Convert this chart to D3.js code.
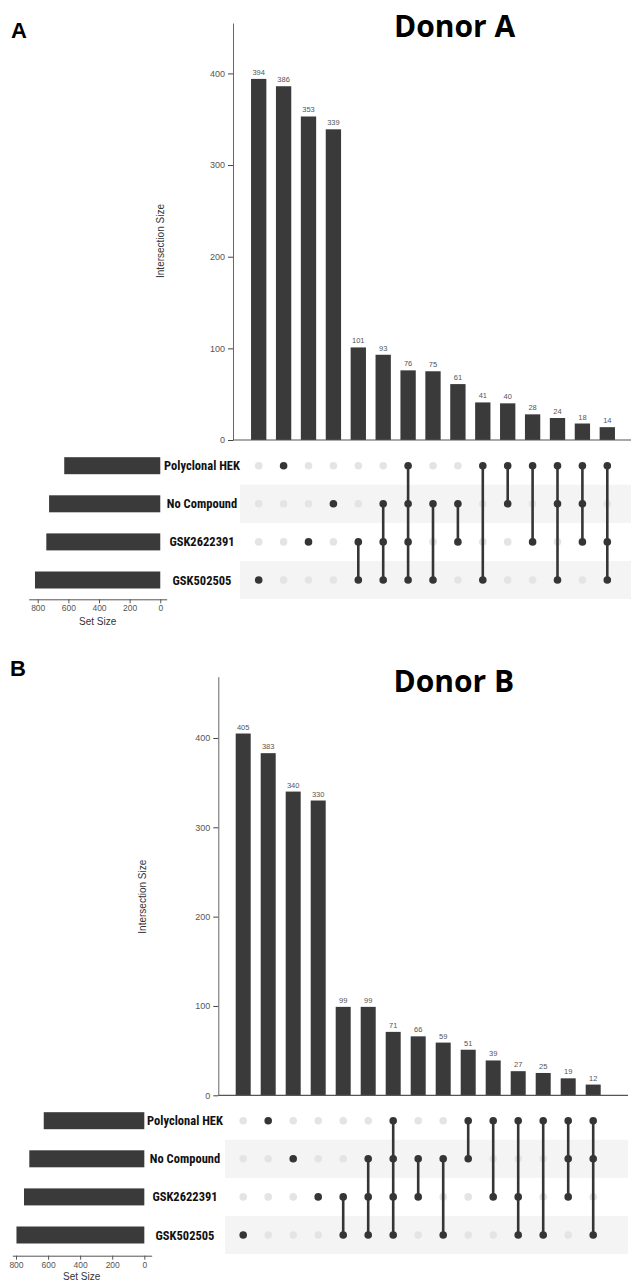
<!DOCTYPE html>
<html>
<head>
<meta charset="utf-8">
<script src="https://cdn.jsdelivr.net/npm/d3@7"></script>
<style>
  html, body { margin: 0; padding: 0; background: #fff; }
  svg { display: block; }
  .tick text { font-family: "Liberation Sans", Arial, sans-serif; fill: #555; }
</style>
</head>
<body>
<svg id="chart" width="631" height="1283"></svg>
<script>
// Sets shown in the matrix rows (top to bottom)
const setNames = ["Polyclonal HEK", "No Compound", "GSK2622391", "GSK502505"];

// Axis tick values
const intersectionTicks = [0, 100, 200, 300, 400];
const setSizeTicks = [0, 200, 400, 600, 800];

// Donor A: exclusive intersection sizes and their member sets
const donorAValues = [394, 386, 353, 339, 101, 93, 76, 75, 61, 41, 40, 28, 24, 18, 14];
const donorASets = [
  ["GSK502505"],
  ["Polyclonal HEK"],
  ["GSK2622391"],
  ["No Compound"],
  ["GSK2622391", "GSK502505"],
  ["No Compound", "GSK2622391", "GSK502505"],
  ["Polyclonal HEK", "No Compound", "GSK2622391", "GSK502505"],
  ["No Compound", "GSK502505"],
  ["No Compound", "GSK2622391"],
  ["Polyclonal HEK", "GSK502505"],
  ["Polyclonal HEK", "No Compound"],
  ["Polyclonal HEK", "GSK2622391"],
  ["Polyclonal HEK", "No Compound", "GSK502505"],
  ["Polyclonal HEK", "No Compound", "GSK2622391"],
  ["Polyclonal HEK", "GSK2622391", "GSK502505"]
];

// Donor B: exclusive intersection sizes and their member sets
const donorBValues = [405, 383, 340, 330, 99, 99, 71, 66, 59, 51, 39, 27, 25, 19, 12];
const donorBSets = [
  ["GSK502505"],
  ["Polyclonal HEK"],
  ["No Compound"],
  ["GSK2622391"],
  ["GSK2622391", "GSK502505"],
  ["No Compound", "GSK2622391", "GSK502505"],
  ["Polyclonal HEK", "No Compound", "GSK2622391", "GSK502505"],
  ["No Compound", "GSK2622391"],
  ["No Compound", "GSK502505"],
  ["Polyclonal HEK", "No Compound"],
  ["Polyclonal HEK", "GSK2622391"],
  ["Polyclonal HEK", "GSK2622391", "GSK502505"],
  ["Polyclonal HEK", "GSK502505"],
  ["Polyclonal HEK", "No Compound", "GSK2622391"],
  ["Polyclonal HEK", "No Compound", "GSK502505"]
];

const svg = d3.select("#chart");
const SANS = '"Liberation Sans", Arial, sans-serif';
const NARROW = '"Liberation Sans Narrow", "Arial Narrow", "Roboto Condensed", "DejaVu Sans Condensed", sans-serif';
const BAR = "#3a3a3a";
const DOT_ON = "#353535";
const DOT_OFF = "#e4e4e4";
const BAND = "#f4f4f4";

function drawUpset(panel, values, memberSets, L) {
  const g = svg.append("g");
  const ids = values.map((_, i) => i);

  // set sizes = sum of the exclusive intersections containing each set
  const setSizes = setNames.map(s =>
    d3.sum(values.filter((v, i) => memberSets[i].includes(s))));

  // scales
  const x = d3.scaleBand().domain(ids)
    .range([L.bandX0, L.bandX0 + L.step * ids.length])
    .paddingInner(L.pad).paddingOuter(L.pad / 2);
  const y = d3.scaleLinear().domain([0, L.yMax]).range([L.base, L.top]);
  const row = d3.scalePoint().domain(setNames)
    .range([L.row0, L.row0 + L.rowStep * (setNames.length - 1)]);
  const sx = d3.scaleLinear().domain(L.setDomain).range([L.setX0, L.setX1]);

  // panel letter and title
  g.append("text").attr("x", L.letterX).attr("y", L.letterY)
    .attr("font-family", SANS).attr("font-weight", "bold")
    .attr("font-size", 22).attr("fill", "#000").text(panel.letter);
  g.append("text").attr("x", L.titleX).attr("y", L.titleY)
    .attr("text-anchor", "middle")
    .attr("font-family", '"Open Sans", sans-serif').attr("font-weight", "bold")
    .attr("font-size", L.titleSize).attr("fill", "#000").text(panel.title);

  // row bands behind the matrix
  g.selectAll("rect.band").data(setNames.filter((_, i) => i % 2 === 1))
    .join("rect").attr("class", "band")
    .attr("x", L.bandStart).attr("width", L.bandEnd - L.bandStart)
    .attr("y", d => row(d) - L.rowStep / 2).attr("height", L.rowStep)
    .attr("fill", BAND);

  // intersection size axis
  const yAxis = g.append("g").attr("transform", `translate(${L.axisX},0)`)
    .call(d3.axisLeft(y).tickValues(intersectionTicks).tickSize(5).tickPadding(3).tickSizeOuter(0));
  yAxis.select(".domain").attr("stroke", "#666");
  yAxis.selectAll(".tick line").attr("stroke", "#444");
  yAxis.selectAll(".tick text").attr("font-size", 9);

  g.append("text")
    .attr("transform", `translate(${L.yLabelX},${L.yLabelY}) rotate(-90)`)
    .attr("text-anchor", "middle").attr("dominant-baseline", "middle")
    .attr("font-family", SANS).attr("font-size", 10).attr("fill", "#333")
    .text("Intersection Size");

  // intersection bars
  g.selectAll("rect.bar").data(ids).join("rect").attr("class", "bar")
    .attr("x", i => x(i)).attr("width", x.bandwidth())
    .attr("y", i => y(values[i])).attr("height", i => y(0) - y(values[i]))
    .attr("fill", BAR);

  g.selectAll("text.val").data(ids).join("text").attr("class", "val")
    .attr("x", i => x(i) + x.bandwidth() / 2).attr("y", i => y(values[i]) - 4)
    .attr("text-anchor", "middle")
    .attr("font-family", SANS).attr("font-size", 7.5).attr("fill", "#555")
    .text(i => values[i]);

  // baseline under the bars
  g.append("line").attr("x1", L.axisX).attr("x2", L.baseEnd)
    .attr("y1", y(0)).attr("y2", y(0)).attr("stroke", "#555").attr("stroke-width", 1.2);

  // matrix: connecting lines and dots
  const cols = g.selectAll("g.col").data(ids).join("g").attr("class", "col")
    .attr("transform", i => `translate(${x(i) + x.bandwidth() / 2},0)`);

  cols.selectAll("circle").data(i => setNames.map(s => ({ s, on: memberSets[i].includes(s) })))
    .join("circle")
    .attr("cy", d => row(d.s)).attr("r", 3.8)
    .attr("fill", d => d.on ? DOT_ON : DOT_OFF);

  cols.filter(i => memberSets[i].length > 1).append("line")
    .attr("y1", i => d3.min(memberSets[i], s => row(s)))
    .attr("y2", i => d3.max(memberSets[i], s => row(s)))
    .attr("stroke", DOT_ON).attr("stroke-width", 2.6);

  // set labels
  g.selectAll("text.setlab").data(setNames).join("text").attr("class", "setlab")
    .attr("x", L.labelX).attr("y", d => row(d))
    .attr("text-anchor", "middle").attr("dominant-baseline", "central")
    .attr("font-family", NARROW).attr("font-weight", "bold")
    .attr("font-size", 12.5).attr("fill", "#111")
    .text(d => d);

  // set size bars
  g.selectAll("rect.setbar").data(setNames).join("rect").attr("class", "setbar")
    .attr("x", (d, i) => sx(setSizes[i])).attr("width", (d, i) => sx(0) - sx(setSizes[i]))
    .attr("y", d => row(d) - 8.5).attr("height", 17)
    .attr("fill", BAR);

  const sAxis = g.append("g").attr("transform", `translate(0,${L.setAxisY})`)
    .call(d3.axisBottom(sx).tickValues(setSizeTicks).tickSize(4).tickPadding(2).tickSizeOuter(0));
  sAxis.select(".domain").attr("stroke", "#555");
  sAxis.selectAll(".tick line").attr("stroke", "#555");
  sAxis.selectAll(".tick text").attr("font-size", 8.5);

  g.append("text").attr("x", L.setLabelX).attr("y", L.setLabelY)
    .attr("text-anchor", "middle").attr("dominant-baseline", "middle")
    .attr("font-family", SANS).attr("font-size", 10).attr("fill", "#333")
    .text("Set Size");
}

drawUpset({ letter: "A", title: "Donor A" }, donorAValues, donorASets, {
  letterX: 11, letterY: 37.7, titleX: 454.6, titleY: 37.3, titleSize: 30,
  axisX: 233, top: 23, base: 440, yMax: 455,
  bandX0: 246.25, step: 24.9, pad: 0.385, baseEnd: 631,
  yLabelX: 161.7, yLabelY: 241,
  row0: 465.7, rowStep: 38.1, labelX: 202,
  bandStart: 240, bandEnd: 631,
  setDomain: [-42, 859], setX0: 166.7, setX1: 28.7, setAxisY: 599.3,
  setLabelX: 97.7, setLabelY: 622
});

drawUpset({ letter: "B", title: "Donor B" }, donorBValues, donorBSets, {
  letterX: 10, letterY: 675.7, titleX: 453.8, titleY: 692, titleSize: 30,
  axisX: 218.3, top: 676.7, base: 1095.3, yMax: 468.6,
  bandX0: 230.7, step: 25, pad: 0.4, baseEnd: 628,
  yLabelX: 143, yLabelY: 896.7,
  row0: 1120.7, rowStep: 38.1, labelX: 185,
  bandStart: 225, bandEnd: 628,
  setDomain: [-46, 823], setX0: 151.7, setX1: 12.3, setAxisY: 1255.7,
  setLabelX: 81.7, setLabelY: 1277.7
});
</script>
</body>
</html>
